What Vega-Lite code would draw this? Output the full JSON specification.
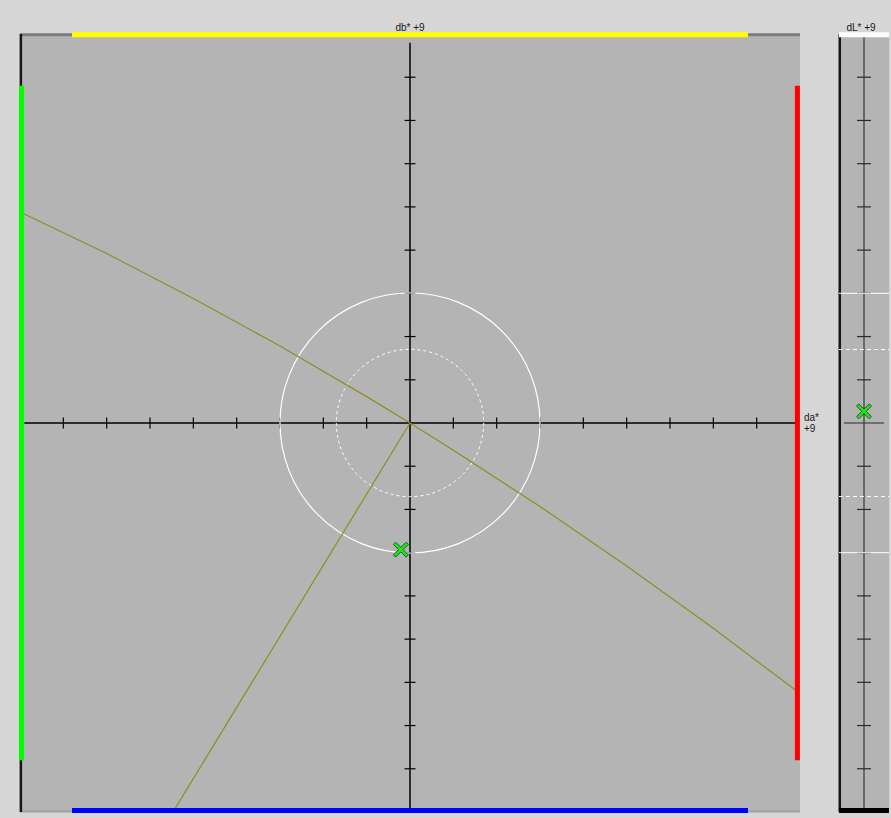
{
  "$schema": "https://vega.github.io/schema/vega-lite/v6.json",
  "background": "#d6d6d6",
  "padding": {"left": 18, "top": 23, "right": 0, "bottom": 4},
  "spacing": 39,
  "bounds": "flush",
  "config": {"view": {"stroke": null, "fill": "#b4b4b4"}},
  "hconcat": [
    {
      "width": 780,
      "height": 778,
      "encoding": {
        "x": {"field": "x", "type": "quantitative", "scale": {"domain": [-9, 9], "nice": false, "zero": false}, "axis": null},
        "y": {"field": "y", "type": "quantitative", "scale": {"domain": [-9, 9], "nice": false, "zero": false}, "axis": null}
      },
      "layer": [
        {"data": {"values": [{"x": -9, "x2": 9, "y": 8.985}]}, "mark": {"type": "rule", "color": "#7c7c7c", "strokeWidth": 3}, "encoding": {"x2": {"field": "x2"}}},
        {"data": {"values": [{"x": -9, "x2": 9, "y": -8.99}]}, "mark": {"type": "rule", "color": "#a2a2a2", "strokeWidth": 2}, "encoding": {"x2": {"field": "x2"}}},
        {"data": {"values": [{"x": -8.98, "y": 9, "y2": -9}]}, "mark": {"type": "rule", "color": "#151515", "strokeWidth": 2.5}, "encoding": {"y2": {"field": "y2"}}},
        {"data": {"values": [{"x": -8.9, "x2": 8.9, "y": 0}]}, "mark": {"type": "rule", "color": "#000000", "strokeWidth": 1.5}, "encoding": {"x2": {"field": "x2"}}},
        {"data": {"values": [{"x": 0, "y": 8.8, "y2": -9}]}, "mark": {"type": "rule", "color": "#000000", "strokeWidth": 1.5}, "encoding": {"y2": {"field": "y2"}}},
        {"data": {"values": [{"x": -8, "y": 0}, {"x": -7, "y": 0}, {"x": -6, "y": 0}, {"x": -5, "y": 0}, {"x": -4, "y": 0}, {"x": -3, "y": 0}, {"x": -2, "y": 0}, {"x": -1, "y": 0}, {"x": 1, "y": 0}, {"x": 2, "y": 0}, {"x": 3, "y": 0}, {"x": 4, "y": 0}, {"x": 5, "y": 0}, {"x": 6, "y": 0}, {"x": 7, "y": 0}, {"x": 8, "y": 0}]}, "mark": {"type": "tick", "orient": "vertical", "size": 11, "thickness": 1.2, "color": "#000000", "opacity": 1}},
        {"data": {"values": [{"x": 0, "y": -8}, {"x": 0, "y": -7}, {"x": 0, "y": -6}, {"x": 0, "y": -5}, {"x": 0, "y": -4}, {"x": 0, "y": -3}, {"x": 0, "y": -2}, {"x": 0, "y": -1}, {"x": 0, "y": 1}, {"x": 0, "y": 2}, {"x": 0, "y": 3}, {"x": 0, "y": 4}, {"x": 0, "y": 5}, {"x": 0, "y": 6}, {"x": 0, "y": 7}, {"x": 0, "y": 8}]}, "mark": {"type": "tick", "orient": "horizontal", "size": 11, "thickness": 1.2, "color": "#000000", "opacity": 1}},
        {"data": {"values": [{"x": 0, "y": 0, "r": 3}]}, "mark": {"type": "point", "shape": "circle", "filled": false, "stroke": "#ffffff", "strokeWidth": 1.2, "opacity": 1}, "encoding": {"size": {"field": "r", "type": "quantitative", "scale": {"type": "pow", "exponent": 2, "domain": [0, 3], "range": [0, 67600]}, "legend": null}}},
        {"data": {"values": [{"x": 0, "y": 0, "r": 1.7}]}, "mark": {"type": "point", "shape": "circle", "filled": false, "stroke": "#ffffff", "strokeWidth": 1, "strokeDash": [3, 3], "opacity": 1}, "encoding": {"size": {"field": "r", "type": "quantitative", "scale": {"type": "pow", "exponent": 2, "domain": [0, 3], "range": [0, 67600]}, "legend": null}}},
        {"data": {"values": [
          {"curve": "chroma", "i": 0, "x": -8.95, "y": 4.86},
          {"curve": "chroma", "i": 1, "x": -7, "y": 3.92},
          {"curve": "chroma", "i": 2, "x": -5, "y": 2.88},
          {"curve": "chroma", "i": 3, "x": -3, "y": 1.78},
          {"curve": "chroma", "i": 4, "x": -1, "y": 0.61},
          {"curve": "chroma", "i": 5, "x": 0, "y": 0},
          {"curve": "chroma", "i": 6, "x": 1, "y": -0.63},
          {"curve": "chroma", "i": 7, "x": 3, "y": -1.93},
          {"curve": "chroma", "i": 8, "x": 5, "y": -3.31},
          {"curve": "chroma", "i": 9, "x": 7, "y": -4.75},
          {"curve": "chroma", "i": 10, "x": 8.95, "y": -6.22},
          {"curve": "hue", "i": 0, "x": 0, "y": 0},
          {"curve": "hue", "i": 1, "x": -5.5, "y": -9.05}
        ]}, "mark": {"type": "line", "color": "#8e8e22", "strokeWidth": 1.2, "clip": true}, "encoding": {"detail": {"field": "curve"}, "order": {"field": "i", "type": "quantitative"}}},
        {"data": {"values": [{"x": -7.8, "x2": 7.8, "y": 8.985}]}, "mark": {"type": "rule", "color": "#ffff00", "strokeWidth": 5}, "encoding": {"x2": {"field": "x2"}}},
        {"data": {"values": [{"x": -7.8, "x2": 7.8, "y": -8.965}]}, "mark": {"type": "rule", "color": "#0000ff", "strokeWidth": 5}, "encoding": {"x2": {"field": "x2"}}},
        {"data": {"values": [{"x": -8.965, "y": 7.8, "y2": -7.8}]}, "mark": {"type": "rule", "color": "#00ff00", "strokeWidth": 5}, "encoding": {"y2": {"field": "y2"}}},
        {"data": {"values": [{"x": 8.94, "y": 7.8, "y2": -7.8}]}, "mark": {"type": "rule", "color": "#ff0000", "strokeWidth": 5}, "encoding": {"y2": {"field": "y2"}}},
        {"data": {"values": [{"x": -0.21, "y": -2.93}]}, "mark": {"type": "point", "shape": "M-1,-0.7L-0.7,-1L0,-0.3L0.7,-1L1,-0.7L0.3,0L1,0.7L0.7,1L0,0.3L-0.7,1L-1,0.7L-0.3,0Z", "size": 225, "filled": true, "fill": "#22e022", "stroke": "#1b5e1b", "strokeWidth": 1, "opacity": 1}},
        {"data": {"values": [{"x": 0, "y": 9, "label": "db* +9"}]}, "mark": {"type": "text", "align": "center", "baseline": "alphabetic", "dy": -3, "font": "Liberation Sans", "fontSize": 10, "color": "#1a1a1a"}, "encoding": {"text": {"field": "label"}}},
        {"data": {"values": [{"x": 9, "y": 0, "label": "da*"}]}, "mark": {"type": "text", "align": "left", "baseline": "alphabetic", "dx": 4, "dy": -2, "font": "Liberation Sans", "fontSize": 10, "color": "#1a1a1a"}, "encoding": {"text": {"field": "label"}}},
        {"data": {"values": [{"x": 9, "y": 0, "label": "+9"}]}, "mark": {"type": "text", "align": "left", "baseline": "alphabetic", "dx": 4, "dy": 9, "font": "Liberation Sans", "fontSize": 10, "color": "#1a1a1a"}, "encoding": {"text": {"field": "label"}}}
      ]
    },
    {
      "width": 50,
      "height": 778,
      "encoding": {
        "x": {"field": "x", "type": "quantitative", "scale": {"domain": [-1, 1], "nice": false, "zero": false}, "axis": null},
        "y": {"field": "y", "type": "quantitative", "scale": {"domain": [-9, 9], "nice": false, "zero": false}, "axis": null}
      },
      "layer": [
        {"data": {"values": [{"x": -0.97, "y": 9, "y2": -9}]}, "mark": {"type": "rule", "color": "#151515", "strokeWidth": 2.5}, "encoding": {"y2": {"field": "y2"}}},
        {"data": {"values": [{"x": 0, "y": 9, "y2": -9}]}, "mark": {"type": "rule", "color": "#505050", "strokeWidth": 1.5}, "encoding": {"y2": {"field": "y2"}}},
        {"data": {"values": [{"x": 0, "y": -8}, {"x": 0, "y": -7}, {"x": 0, "y": -6}, {"x": 0, "y": -5}, {"x": 0, "y": -4}, {"x": 0, "y": -3}, {"x": 0, "y": -2}, {"x": 0, "y": -1}, {"x": 0, "y": 1}, {"x": 0, "y": 2}, {"x": 0, "y": 3}, {"x": 0, "y": 4}, {"x": 0, "y": 5}, {"x": 0, "y": 6}, {"x": 0, "y": 7}, {"x": 0, "y": 8}]}, "mark": {"type": "tick", "orient": "horizontal", "size": 14, "thickness": 1.2, "color": "#2a2a2a", "opacity": 1}},
        {"data": {"values": [{"x": 0, "y": 0}]}, "mark": {"type": "tick", "orient": "horizontal", "size": 40, "thickness": 1.2, "color": "#2a2a2a", "opacity": 1}},
        {"data": {"values": [{"x": -1, "x2": 1, "y": 3}, {"x": -1, "x2": 1, "y": -3}]}, "mark": {"type": "rule", "color": "#ffffff", "strokeWidth": 1}, "encoding": {"x2": {"field": "x2"}}},
        {"data": {"values": [{"x": -1, "x2": 1, "y": 1.7}, {"x": -1, "x2": 1, "y": -1.7}]}, "mark": {"type": "rule", "color": "#ffffff", "strokeWidth": 1, "strokeDash": [4, 3]}, "encoding": {"x2": {"field": "x2"}}},
        {"data": {"values": [{"x": -1, "x2": 1, "y": 8.985}]}, "mark": {"type": "rule", "color": "#ffffff", "strokeWidth": 5}, "encoding": {"x2": {"field": "x2"}}},
        {"data": {"values": [{"x": -1, "x2": 1, "y": -8.965}]}, "mark": {"type": "rule", "color": "#000000", "strokeWidth": 5}, "encoding": {"x2": {"field": "x2"}}},
        {"data": {"values": [{"x": 0, "y": 0.27}]}, "mark": {"type": "point", "shape": "M-1,-0.7L-0.7,-1L0,-0.3L0.7,-1L1,-0.7L0.3,0L1,0.7L0.7,1L0,0.3L-0.7,1L-1,0.7L-0.3,0Z", "size": 225, "filled": true, "fill": "#22e022", "stroke": "#1b5e1b", "strokeWidth": 1, "opacity": 1}},
        {"data": {"values": [{"x": 0, "y": 9, "label": "dL* +9"}]}, "mark": {"type": "text", "align": "center", "baseline": "alphabetic", "dx": -3, "dy": -3, "font": "Liberation Sans", "fontSize": 10, "color": "#1a1a1a"}, "encoding": {"text": {"field": "label"}}}
      ]
    }
  ]
}
